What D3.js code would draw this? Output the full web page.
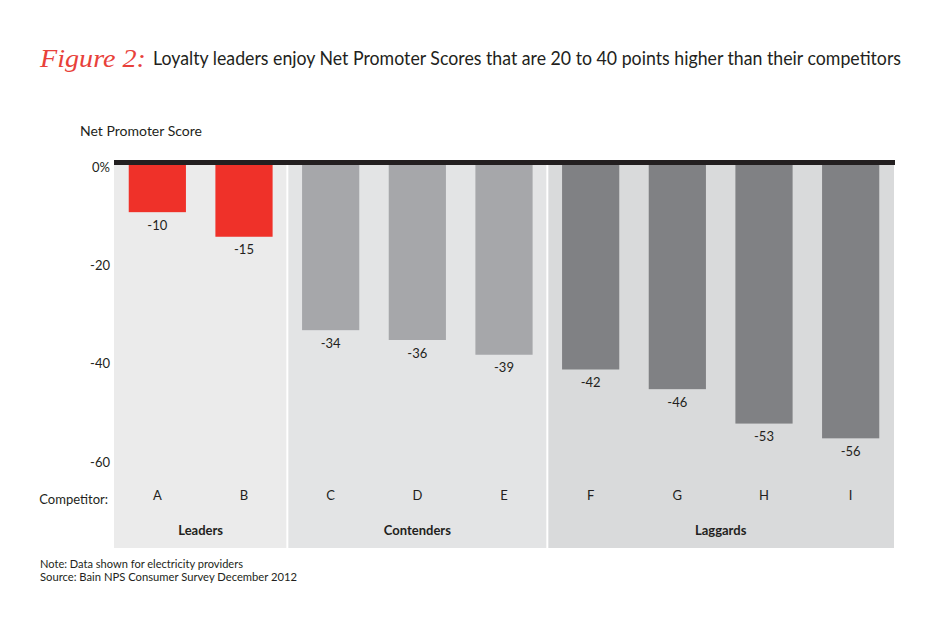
<!DOCTYPE html>
<html>
<head>
<meta charset="utf-8">
<script src="https://cdn.jsdelivr.net/npm/d3@7"></script>
<style>
  html, body { margin: 0; padding: 0; background: #fff; }
  svg { display: block; font-family: "Lato", "Open Sans", sans-serif; }
</style>
</head>
<body>
<svg id="chart" width="950" height="631"></svg>
<script>
// ---- data ----
const competitors = ["A", "B", "C", "D", "E", "F", "G", "H", "I"];
const scores = [-10, -15, -34, -36, -39, -42, -46, -53, -56];
const groupOf = ["Leaders", "Leaders", "Contenders", "Contenders", "Contenders", "Laggards", "Laggards", "Laggards", "Laggards"];
const groups = ["Leaders", "Contenders", "Laggards"];
const yTicks = [0, -20, -40, -60];
const yTickLabels = ["0%", "-20", "-40", "-60"];

// ---- styles ----
const barColor = { Leaders: "#ef3129", Contenders: "#a6a7aa", Laggards: "#808184" };
const panelColor = { Leaders: "#ebebeb", Contenders: "#e3e4e5", Laggards: "#d9dadb" };

const svg = d3.select("#chart");

const x = d3.scaleBand().domain(competitors).range([114, 894]).padding(0);
const y = d3.scaleLinear().domain([0, -60]).range([163, 458]);
const barW = x.bandwidth() * 0.66;
const panelTop = 163, panelBottom = 548;

// panels
groups.forEach(g => {
  const members = competitors.filter((c, i) => groupOf[i] === g);
  const x0 = x(members[0]);
  const x1 = x(members[members.length - 1]) + x.bandwidth();
  const isFirst = g === groups[0];
  const isLast = g === groups[groups.length - 1];
  const left = isFirst ? x0 : x0 + 1;
  const right = isLast ? x1 : x1 - 1;
  svg.append("rect")
    .attr("x", left).attr("y", panelTop)
    .attr("width", right - left).attr("height", panelBottom - panelTop)
    .attr("fill", panelColor[g]);
  svg.append("text")
    .attr("x", (x0 + x1) / 2).attr("y", 535)
    .attr("text-anchor", "middle")
    .attr("font-size", 13).attr("font-weight", "bold")
    .attr("fill", "#231f20")
    .text(g);
});

// bars
const data = competitors.map((c, i) => ({ c, v: scores[i], g: groupOf[i] }));
svg.selectAll("rect.bar").data(data).enter().append("rect")
  .attr("class", "bar")
  .attr("x", d => x(d.c) + (x.bandwidth() - barW) / 2)
  .attr("y", y(0))
  .attr("width", barW)
  .attr("height", d => y(d.v) - y(0))
  .attr("fill", d => barColor[d.g]);

// value labels
svg.selectAll("text.val").data(data).enter().append("text")
  .attr("class", "val")
  .attr("x", d => x(d.c) + x.bandwidth() / 2)
  .attr("y", d => y(d.v) + 17.5)
  .attr("text-anchor", "middle")
  .attr("font-size", 13)
  .attr("fill", "#231f20")
  .text(d => d.v);

// zero line
svg.append("line")
  .attr("x1", 114).attr("x2", 895)
  .attr("y1", y(0) - 0.5).attr("y2", y(0) - 0.5)
  .attr("stroke", "#231f20").attr("stroke-width", 5);

// y axis labels
const yAxis = d3.axisLeft(y).tickValues(yTicks).tickSize(0).tickPadding(0)
  .tickFormat((d, i) => yTickLabels[i]);
const yg = svg.append("g").attr("transform", "translate(110,4)").call(yAxis);
yg.select(".domain").remove();
yg.selectAll("text").attr("font-size", 13).attr("fill", "#231f20")
  .attr("font-family", "Lato, 'Open Sans', sans-serif");

// competitor labels
svg.append("text")
  .attr("x", 108).attr("y", 504)
  .attr("text-anchor", "end").attr("font-size", 13).attr("fill", "#231f20")
  .text("Competitor:");
const xAxis = d3.axisBottom(x).tickSize(0).tickPadding(0);
const xg = svg.append("g").attr("transform", "translate(0,491)").call(xAxis);
xg.select(".domain").remove();
xg.selectAll("text").attr("font-size", 13).attr("fill", "#231f20")
  .attr("font-family", "Lato, 'Open Sans', sans-serif");

// axis title
svg.append("text")
  .attr("x", 80).attr("y", 136)
  .attr("font-size", 13).attr("fill", "#231f20")
  .attr("textLength", 122).attr("lengthAdjust", "spacingAndGlyphs")
  .text("Net Promoter Score");

// title
svg.append("text")
  .attr("x", 40).attr("y", 67)
  .attr("font-family", "'Liberation Serif', serif")
  .attr("font-style", "italic")
  .attr("font-size", 25).attr("fill", "#e8413a")
  .attr("textLength", 106).attr("lengthAdjust", "spacingAndGlyphs")
  .text("Figure 2:");
svg.append("text")
  .attr("x", 153).attr("y", 65)
  .attr("font-size", 18.5).attr("fill", "#231f20")
  .attr("textLength", 748).attr("lengthAdjust", "spacingAndGlyphs")
  .text("Loyalty leaders enjoy Net Promoter Scores that are 20 to 40 points higher than their competitors");

// notes
svg.append("text")
  .attr("x", 40).attr("y", 568)
  .attr("font-size", 11).attr("fill", "#231f20")
  .attr("textLength", 203).attr("lengthAdjust", "spacingAndGlyphs")
  .text("Note: Data shown for electricity providers");
svg.append("text")
  .attr("x", 40).attr("y", 581)
  .attr("font-size", 11).attr("fill", "#231f20")
  .attr("textLength", 257).attr("lengthAdjust", "spacingAndGlyphs")
  .text("Source: Bain NPS Consumer Survey December 2012");
</script>
</body>
</html>
